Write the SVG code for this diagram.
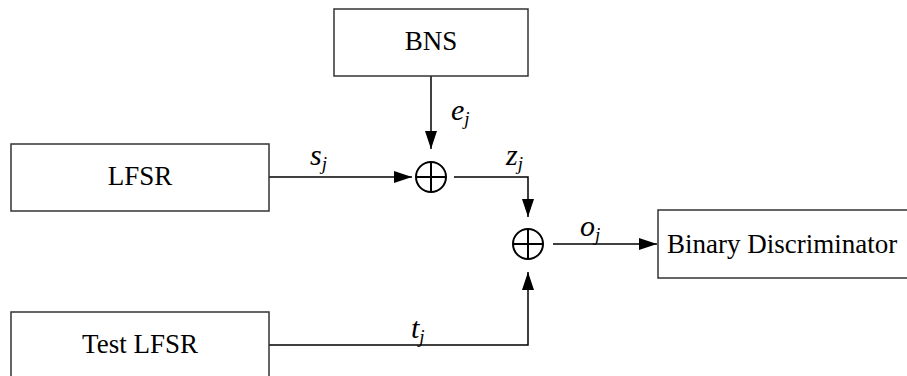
<svg xmlns="http://www.w3.org/2000/svg" width="907" height="376" viewBox="0 0 907 376">
<style>
.box{fill:#fff;stroke:#333;stroke-width:1.5}
.lbl{font-family:"Liberation Serif","Times New Roman",serif;font-size:27px;fill:#000;text-anchor:middle}
.var{font-family:"Liberation Serif","Times New Roman",serif;font-size:30px;font-style:italic;fill:#000}
.sub{font-size:19px}
.wire{fill:none;stroke:#000;stroke-width:1.5}
.xor{fill:none;stroke:#000;stroke-width:2}
</style>
<defs>
<marker id="arr" markerUnits="userSpaceOnUse" markerWidth="18" markerHeight="12" refX="18" refY="6" orient="auto">
<path d="M0,0 L18,6 L0,12 z" fill="#000"/>
</marker>
</defs>
<rect width="907" height="376" fill="#fff"/>
<g id="connectors">
<line class="wire" x1="431" y1="76" x2="431" y2="149" marker-end="url(#arr)"/>
<line class="wire" x1="269" y1="177" x2="412" y2="177" marker-end="url(#arr)"/>
<polyline class="wire" points="454,177 528,177 528,217" marker-end="url(#arr)"/>
<polyline class="wire" points="269,345 528,345 528,272" marker-end="url(#arr)"/>
<line class="wire" x1="553" y1="244" x2="657" y2="244" marker-end="url(#arr)"/>
<text class="var" x="451" y="120">e<tspan class="sub" dy="5">j</tspan></text>
<text class="var" x="310" y="165">s<tspan class="sub" dy="5">j</tspan></text>
<text class="var" x="506" y="165">z<tspan class="sub" dy="5">j</tspan></text>
<text class="var" x="580" y="236">o<tspan class="sub" dy="5">j</tspan></text>
<text class="var" x="411" y="338">t<tspan class="sub" dy="5">j</tspan></text>
</g>
<g id="bns">
<rect class="box" x="334" y="9" width="194" height="67"/>
<text class="lbl" x="431" y="50">BNS</text>
</g>
<g id="lfsr">
<rect class="box" x="11" y="144" width="258" height="67"/>
<text class="lbl" x="140" y="185">LFSR</text>
</g>
<g id="test-lfsr">
<rect class="box" x="11" y="312" width="258" height="67"/>
<text class="lbl" x="140" y="353">Test LFSR</text>
</g>
<g id="binary-discriminator">
<rect class="box" x="658" y="210" width="260" height="68"/>
<text class="lbl" x="667" y="253" style="text-anchor:start">Binary Discriminator</text>
</g>
<g id="xor1">
<circle class="xor" cx="431" cy="177" r="15"/>
<line class="xor" x1="416" y1="177" x2="446" y2="177"/>
<line class="xor" x1="431" y1="162" x2="431" y2="192"/>
</g>
<g id="xor2">
<circle class="xor" cx="528" cy="244" r="15"/>
<line class="xor" x1="513" y1="244" x2="543" y2="244"/>
<line class="xor" x1="528" y1="229" x2="528" y2="259"/>
</g>
</svg>
